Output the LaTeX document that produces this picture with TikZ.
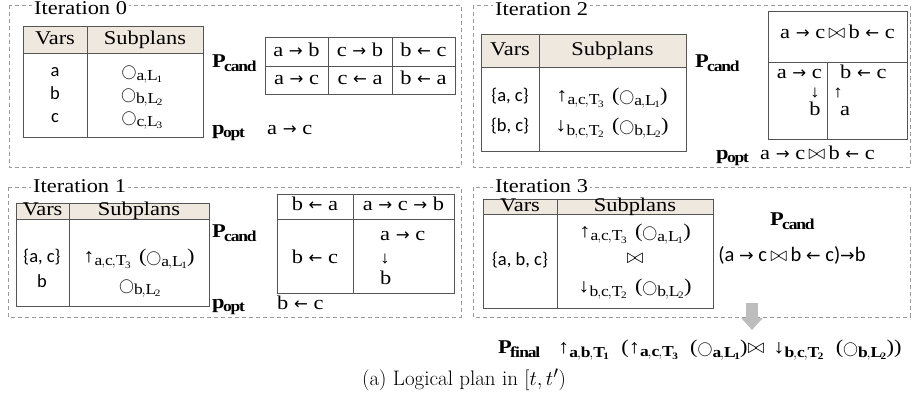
\documentclass[tikz,border=0pt]{standalone}
\usepackage{fontspec}
\usepackage{graphicx}
\setmainfont{Liberation Serif}[FakeStretch=1.15]
\newfontfamily\sanscal{Carlito}
\newfontfamily\capfont{Latin Modern Roman}
\newfontfamily\arrfont{DejaVu Sans}[Scale=0.85]
\usetikzlibrary{arrows.meta}
\definecolor{hdrfill}{HTML}{EEE8DF}
\definecolor{tabline}{HTML}{555555}
\definecolor{boxline}{HTML}{9A9A9A}
\definecolor{arrgray}{HTML}{BDBDBD}
\renewcommand{\defaultscriptratio}{.78}
\newcommand{\txtsize}{\fontsize{19.5}{23}\selectfont}
\newcommand{\bigo}{\mbox{\scalebox{.72}{$\bigcirc$}}}
\newcommand{\opgap}{\hspace{8pt}}
\newcommand{\scanop}[3][\mathrm]{$\bigo_{#1{#2{,}L_{#3}}}$}
\newcommand{\upop}[2][\mathrm]{↑$_{#1{#2}}$}
\newcommand{\dnop}[2][\mathrm]{↓$_{#1{#2}}$}
\newcommand{\ra}{{\arrfont →}}
\newcommand{\la}{{\arrfont ←}}

\begin{document}
\begin{tikzpicture}[x=1pt,y=-1pt,
  iterbox/.style={draw=boxline,line width=.9pt,dash pattern=on 4pt off 3pt},
  ilabel/.style={fill=white,inner xsep=2pt,inner ysep=0pt,anchor=west,font=\txtsize,text height=13.5pt,text depth=4pt},
  txt/.style={inner sep=0pt,font=\txtsize,text height=13.5pt,text depth=4pt},
  arrw/.style={inner sep=0pt,font=\fontsize{17}{20}\selectfont,text height=10pt,text depth=0pt},
  sf/.style={txt,font=\sanscal\fontsize{18.5}{22}\selectfont},
  captext/.style={inner sep=0pt,font=\capfont\fontsize{21}{25}\selectfont},
  tab/.style={draw=tabline,line width=.8pt},
  fat/.style={line width=12pt,draw=arrgray,-{Triangle[width=21pt,length=12pt]}}
]
\useasboundingbox (0,0) rectangle (912,403);
% iteration frames
\draw[iterbox] (9,5) rectangle (461,167);
\draw[iterbox] (473,5) rectangle (910,167);
\draw[iterbox] (8,187) rectangle (461,317);
\draw[iterbox] (473,187) rectangle (910,317);
\node[ilabel] (it0) at (32,9.5) {Iteration 0};
\node[ilabel] (it2) at (493,10.5) {Iteration 2};
\node[ilabel] (it1) at (31,187.5) {Iteration 1};
\node[ilabel] (it3) at (493,187.5) {Iteration 3};
% Vars / Subplans tables
\foreach \k/\xa/\ya/\xb/\yh/\yb/\xc in {0/23/26/203/53/137/87,1/16/203/209/219/306/69,2/481/34/686/67/151/539,3/483/199/713/214/308/557}{
  \fill[hdrfill] (\xa,\ya) rectangle (\xb,\yh);
  \draw[tab] (\xa,\ya) rectangle (\xb,\yb) (\xa,\yh) -- (\xb,\yh) (\xc,\ya) -- (\xc,\yb);
  \node[txt] (vars\k) at ({(\xa+\xc)/2},{(\ya+\yh)/2}) {Vars};
  \node[txt] (subp\k) at ({(\xc+\xb)/2},{(\ya+\yh)/2}) {Subplans};
}
% iteration 0
\foreach \v/\s/\y in {a/1/72,b/2/95,c/3/118}{
  \node[sf] (v0\v) at (55,\y) {\v};
  \node[txt] (s0\v) at (142,\y) {\scanop{\v}{\s}};
}
\node[txt,anchor=west] (pc0) at (212,63) {$\mathbf{P}_{\mathbf{cand}}$};
\draw[tab] (265,37) rectangle (455,94) (265,66) -- (455,66) (328,37) -- (328,94) (392,37) -- (392,94);
\foreach \x/\t/\b [count=\i] in {296.5/a \ra{} b/a \ra{} c,360/c \ra{} b/c \la{} a,423.5/b \la{} c/b \la{} a}{
  \node[txt] (c0t\i) at (\x,51.5) {\t};
  \node[txt] (c0b\i) at (\x,80) {\b};
}
\node[txt,anchor=west] (po0) at (212,130) {$\mathbf{p}_{\mathbf{opt}}$};
\node[txt,anchor=west] (opt0) at (267,130) {a \ra{} c};
% iteration 1
\node[sf] (v1a) at (42,258) {\{a, c\}};
\node[sf] (v1b) at (42,283) {b};
\node[txt] (s1a) at (139,258) {\upop{a{,}c{,}T_3}\opgap(\scanop{a}{1})};
\node[txt] (s1b) at (140,286) {\scanop{b}{2}};
\node[txt,anchor=west] (pc1) at (212,233) {$\mathbf{P}_{\mathbf{cand}}$};
\draw[tab] (277,194) rectangle (454,293) (277,219) -- (454,219) (353,194) -- (353,293);
\node[txt] (c1a) at (315,206) {b \la{} a};
\node[txt] (c1b) at (403.5,206) {a \ra{} c \ra{} b};
\node[txt] (c1c) at (315,259) {b \la{} c};
\node[txt,anchor=west] (c1d) at (380,236) {a \ra{} c};
\node[arrw,anchor=west] (c1e) at (380,258) {↓};
\node[txt,anchor=west] (c1f) at (380,280) {b};
\node[txt,anchor=west] (po1) at (212,304) {$\mathbf{p}_{\mathbf{opt}}$};
\node[txt,anchor=west] (opt1) at (277,305) {b \la{} c};
% iteration 2
\node[sf] (v2a) at (510,97) {\{a, c\}};
\node[sf] (v2b) at (510,127) {\{b, c\}};
\node[txt] (s2a) at (612,97) {\upop{a{,}c{,}T_3}\opgap(\scanop{a}{1})};
\node[txt] (s2b) at (612,127) {\dnop{b{,}c{,}T_2}\opgap(\scanop{b}{2})};
\node[txt,anchor=west] (pc2) at (695,63) {$\mathbf{P}_{\mathbf{cand}}$};
\draw[tab] (768,11) rectangle (907,139) (768,62) -- (907,62) (827,62) -- (827,139);
\node[txt] (c2a) at (837.5,34) {a \ra{} c\,$\bowtie$\,b \la{} c};
\node[txt,anchor=east] (c2b) at (822,74) {a \ra{} c};
\node[arrw] (c2c) at (815,92.5) {↓};
\node[txt] (c2d) at (815,111) {b};
\node[txt,anchor=west] (c2e) at (840,74) {b \la{} c};
\node[arrw] (c2f) at (838,92.5) {↑};
\node[txt] (c2g) at (845,111) {a};
\node[txt,anchor=west] (po2) at (716,155) {$\mathbf{p}_{\mathbf{opt}}$};
\node[txt,anchor=west] (opt2) at (760,155) {a \ra{} c\,$\bowtie$\,b \la{} c};
% iteration 3
\node[sf] (v3a) at (520,261) {\{a, b, c\}};
\node[txt] (s3a) at (635,233) {\upop{a{,}c{,}T_3}\opgap(\scanop{a}{1})};
\node[txt] (s3b) at (635,259) {$\bowtie$};
\node[txt] (s3c) at (635,288) {\dnop{b{,}c{,}T_2}\opgap(\scanop{b}{2})};
\node[txt] (pc3) at (792,221) {$\mathbf{P}_{\mathbf{cand}}$};
\node[sf,font=\sanscal\fontsize{20.5}{24}\selectfont] (cand3) at (792,257) {(a \ra{} c\,$\bowtie$\,b \la{} c)\ra b};
% final plan
\coordinate (arrtop) at (752,303);
\coordinate (arrtip) at (752,330);
\draw[fat] (arrtop) -- (arrtip);
\node[txt,anchor=west] (pfin) at (498,349) {$\mathbf{P}_{\mathbf{final}}$};
\node[txt,anchor=west] (plan) at (558,349) {\upop[\mathbf]{a{,}b{,}T_1}\hspace{12pt}(\upop[\mathbf]{a{,}c{,}T_3}\hspace{12pt}(\scanop[\mathbf]{a}{1})$\bowtie$\hspace{9pt}\dnop[\mathbf]{b{,}c{,}T_2}\hspace{12pt}(\scanop[\mathbf]{b}{2}))};
\node[captext] (caption) at (464,380) {(a) Logical plan in $[t,t')$};
\end{tikzpicture}
\end{document}
